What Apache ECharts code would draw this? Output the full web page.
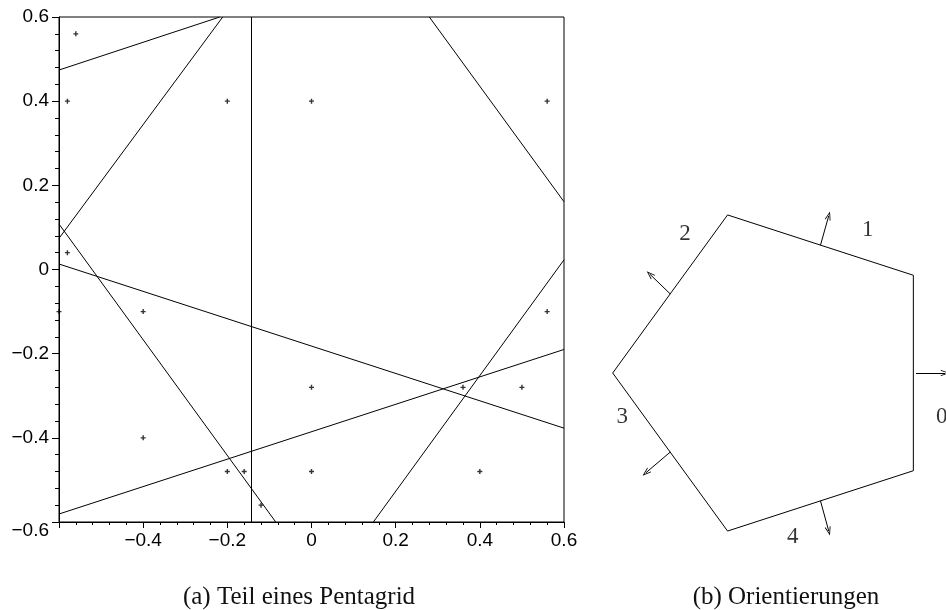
<!DOCTYPE html>
<html>
<head>
<meta charset="utf-8">
<script src="https://cdn.jsdelivr.net/npm/echarts@6/dist/echarts.min.js"></script>
<style>
  html, body { margin: 0; padding: 0; background: #fff; }
  #container { width: 946px; height: 610px; }
</style>
</head>
<body>
<div id="container"></div>
<script>
// (a) pentagrid: line segments clipped to the box, and the marked points
var gridLines = [
    [[-0.6, 0.474], [-0.218, 0.6]],
    [[-0.6, 0.074], [-0.211, 0.6]],
    [[-0.143, -0.6], [-0.143, 0.6]],
    [[0.280, 0.6], [0.6, 0.161]],
    [[0.147, -0.6], [0.6, 0.023]],
    [[-0.6, 0.013], [0.6, -0.377]],
    [[-0.6, -0.581], [0.6, -0.19]],
    [[-0.6, 0.108], [-0.085, -0.6]]
];
var gridPoints = [
    [-0.56, 0.56], [-0.58, 0.4], [-0.2, 0.4], [0, 0.4], [0.56, 0.4],
    [-0.58, 0.04], [-0.6, -0.1], [-0.4, -0.1], [0.56, -0.1],
    [0, -0.28], [0.36, -0.28], [0.5, -0.28], [-0.4, -0.4],
    [-0.2, -0.48], [-0.16, -0.48], [0, -0.48], [0.4, -0.48], [-0.12, -0.56]
];
var axisMin = -0.6, axisMax = 0.6, axisStep = 0.2;

// (b) orientations: unit pentagon, normal arrows and their numbers
var pentagonVertices = [
    [0.809, 0.588], [-0.309, 0.951], [-1, 0], [-0.309, -0.951], [0.809, -0.588], [0.809, 0.588]
];
var arrowStarts = [[0.825, 0], [0.25, 0.769], [-0.654, 0.476], [-0.654, -0.476], [0.25, -0.769]];
var arrowEnds = [[1.0, 0], [0.30, 0.946], [-0.776, 0.594], [-0.80, -0.60], [0.30, -0.951]];
var orientationNames = ['0', '1', '2', '3', '4'];
var orientationLabelPos = [[0.98, -0.267], [0.534, 0.860], [-0.565, 0.835], [-0.942, -0.267], [0.083, -0.989]];

var captions = ['(a) Teil eines Pentagrid', '(b) Orientierungen'];

var dom = document.getElementById('container');
var myChart = echarts.init(dom);

var plusSymbol = 'path://M1.8,0H3.2V1.8H5V3.2H3.2V5H1.8V3.2H0V1.8H1.8Z';
var chevron = 'path://M3,0L6,9L5.2,9.4L3,2.6L0.8,9.4L0,9Z';

function tickText(v) {
    if (Math.abs(v) < 1e-9) return '0';
    return (Math.round(v * 10) / 10).toString().replace('-', '\u2212');
}

var sansLabel = {
    fontFamily: 'Liberation Sans',
    fontSize: 19,
    color: '#000'
};

var captionStyle = { fontFamily: 'Liberation Serif', fontWeight: 'normal', fontSize: 25, color: '#111' };

var option = {
    animation: false,
    backgroundColor: '#fff',
    title: [{
        text: captions[0],
        left: 294,
        top: 580,
        textAlign: 'center',
        textStyle: captionStyle
    }, {
        text: captions[1],
        left: 781,
        top: 580,
        textAlign: 'center',
        textStyle: captionStyle
    }],
    grid: [{
        left: 59, top: 17, width: 505, height: 505,
        show: true, borderColor: '#000', borderWidth: 1, backgroundColor: 'transparent'
    }, {
        left: 604.4, top: 198.5, width: 340.7, height: 349
    }],
    xAxis: [{
        type: 'value', gridIndex: 0,
        min: axisMin, max: axisMax, interval: axisStep,
        axisLine: { show: true, onZero: false, lineStyle: { color: '#000', width: 1 } },
        axisTick: { show: true, length: 6, lineStyle: { color: '#000' } },
        minorTick: { show: true, splitNumber: 5, length: 3, lineStyle: { color: '#000' } },
        splitLine: { show: false },
        axisLabel: Object.assign({
            margin: 9,
            formatter: function (v) { return v <= axisMin + 1e-6 ? '' : tickText(v); }
        }, sansLabel)
    }, {
        type: 'value', gridIndex: 1, min: -1.05, max: 1.0, show: false
    }],
    yAxis: [{
        type: 'value', gridIndex: 0,
        min: axisMin, max: axisMax, interval: axisStep,
        axisLine: { show: true, onZero: false, lineStyle: { color: '#000', width: 1 } },
        axisTick: { show: true, length: 7, lineStyle: { color: '#000' } },
        minorTick: { show: true, splitNumber: 5, length: 4, lineStyle: { color: '#000' } },
        splitLine: { show: false },
        axisLabel: Object.assign({
            margin: 10,
            formatter: function (v) {
                return v <= axisMin + 1e-6 ? '{low|' + tickText(v) + '}' : tickText(v);
            },
            rich: {
                low: { fontFamily: 'Liberation Sans', fontSize: 19, color: '#000', padding: [18, 0, 0, 0] }
            }
        }, sansLabel)
    }, {
        type: 'value', gridIndex: 1, min: -1.05, max: 1.05, show: false
    }],
    series: [{
        name: 'pentagrid',
        type: 'lines',
        coordinateSystem: 'cartesian2d',
        xAxisIndex: 0, yAxisIndex: 0,
        silent: true,
        symbol: 'none',
        lineStyle: { color: '#000', width: 1, opacity: 1 },
        data: gridLines.map(function (seg) { return { coords: seg }; })
    }, {
        name: 'points',
        type: 'scatter',
        xAxisIndex: 0, yAxisIndex: 0,
        silent: true,
        clip: false,
        symbol: plusSymbol,
        symbolSize: 5,
        itemStyle: { color: '#000' },
        data: gridPoints
    }, {
        name: 'pentagon',
        type: 'line',
        xAxisIndex: 1, yAxisIndex: 1,
        silent: true,
        showSymbol: false,
        lineStyle: { color: '#000', width: 1 },
        data: pentagonVertices
    }, {
        name: 'normals',
        type: 'lines',
        coordinateSystem: 'cartesian2d',
        xAxisIndex: 1, yAxisIndex: 1,
        silent: true,
        clip: false,
        symbol: ['none', chevron],
        symbolSize: [1, [6, 9]],
        lineStyle: { color: '#000', width: 1, opacity: 1 },
        data: arrowStarts.map(function (s, i) { return { coords: [s, arrowEnds[i]] }; })
    }, {
        name: 'numbers',
        type: 'scatter',
        xAxisIndex: 1, yAxisIndex: 1,
        silent: true,
        clip: false,
        symbolSize: 1,
        itemStyle: { color: 'transparent' },
        label: {
            show: true, position: 'inside', formatter: '{b}',
            fontFamily: 'Liberation Serif', fontSize: 23, color: '#000'
        },
        data: orientationLabelPos.map(function (p, i) { return { name: orientationNames[i], value: p }; })
    }]
};

myChart.setOption(option);
</script>
</body>
</html>
